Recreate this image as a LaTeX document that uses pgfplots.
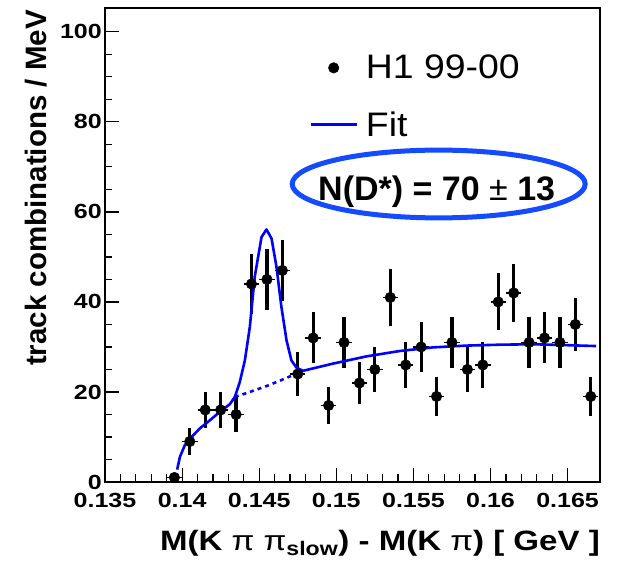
\documentclass[border=0pt]{standalone}
\usepackage{fontspec}
\setmainfont{Liberation Sans}
\newfontfamily\tickfont[FakeStretch=1.22]{Liberation Sans}
\newfontfamily\legfont[FakeStretch=1.1]{Liberation Sans}
\usepackage{graphicx}
\usepackage{pgfplots}
\pgfplotsset{compat=1.18}
\definecolor{ellblue}{RGB}{20,75,255}
\pgfplotsset{
  fitlegend/.style={legend image code/.code={\draw[##1] (0pt,0pt) -- (46pt,0pt);}},
  datalegend/.style={legend image code/.code={\draw[mark repeat=2,mark phase=2,##1] plot coordinates {(0pt,0pt) (23pt,0pt) (46pt,0pt)};}},
}
\begin{document}
\begin{tikzpicture}
\begin{axis}[
  name=ax,
  scale only axis,
  width=495pt, height=474pt,
  xmin=0.135, xmax=0.1671,
  ymin=0, ymax=105.3,
  axis line style={line width=1.3pt},
  xtick={0.135,0.14,0.145,0.15,0.155,0.16,0.165},
  xticklabels={0.135,0.14,0.145,0.15,0.155,0.16,0.165},
  minor x tick num=4,
  ytick={0,20,40,60,80,100},
  minor y tick num=3,
  xtick pos=bottom, ytick pos=left,
  tick align=inside,
  major tick length=14pt, minor tick length=7.5pt,
  tick style={line width=1.2pt, black},
  /pgf/number format/assume math mode=true,
  tick label style={font=\tickfont\fontsize{20.5}{24}\selectfont\bfseries, inner sep=0pt},
  xticklabel style={anchor=base, yshift=-25.3pt},
  yticklabel style={anchor=east, xshift=-3pt},
  xlabel={\scalebox{1.18}[1]{\textbf{M(K {\mdseries π} {\mdseries π}\textsubscript{slow}) - M(K {\mdseries π}) [ GeV ]}}},
  xlabel style={font=\fontsize{28}{34}\selectfont, at={(rel axis cs:1,-0.1435)}, anchor=base east, inner sep=0pt},
  ylabel={\textbf{track combinations / MeV}},
  ylabel style={font=\fontsize{29.5}{34}\selectfont, at={(rel axis cs:-0.1172,0.9958)}, anchor=base east, inner sep=0pt},
  legend style={draw=none, fill=none, font=\legfont\fontsize{34}{40}\selectfont,
    at={(rel axis cs:0.4125,0.905)}, anchor=north west,
    row sep=27pt, inner sep=0pt,
    /tikz/every odd column/.append style={column sep=6pt}},
  legend cell align=left,
]
% data with y errors
\addplot[only marks, mark=*, mark size=5.3pt, black, datalegend,
  error bars/.cd, y dir=both, y explicit,
  error bar style={line width=3.2pt, black}, error mark=none]
  table[x=x, y=y, y error=e] {
x y e
0.1395 1 1
0.1405 9 3
0.1415 16 4
0.1425 16 4
0.1435 15 3.87
0.1445 44 6.63
0.1455 45 6.71
0.1465 47 6.86
0.1475 24 4.9
0.1485 32 5.66
0.1495 17 4.12
0.1505 31 5.57
0.1515 22 4.69
0.1525 25 5
0.1535 41 6.4
0.1545 26 5.1
0.1555 30 5.48
0.1565 19 4.36
0.1575 31 5.57
0.1585 25 5
0.1595 26 5.1
0.1605 40 6.32
0.1615 42 6.48
0.1625 31 5.57
0.1635 32 5.66
0.1645 31 5.57
0.1655 35 5.92
0.1665 19 4.36
};
\addlegendentry{H1 99-00}
% horizontal bin-width bars
\addplot[only marks, mark=none, forget plot,
  error bars/.cd, x dir=both, x explicit,
  error bar style={line width=1.4pt, black}, error mark=none]
  table[x=x, y=y, x error=e] {
x y e
0.1395 1 0.0005
0.1405 9 0.0005
0.1415 16 0.0005
0.1425 16 0.0005
0.1435 15 0.0005
0.1445 44 0.0005
0.1455 45 0.0005
0.1465 47 0.0005
0.1475 24 0.0005
0.1485 32 0.0005
0.1495 17 0.0005
0.1505 31 0.0005
0.1515 22 0.0005
0.1525 25 0.0005
0.1535 41 0.0005
0.1545 26 0.0005
0.1555 30 0.0005
0.1565 19 0.0005
0.1575 31 0.0005
0.1585 25 0.0005
0.1595 26 0.0005
0.1605 40 0.0005
0.1615 42 0.0005
0.1625 31 0.0005
0.1635 32 0.0005
0.1645 31 0.0005
0.1655 35 0.0005
0.1665 19 0.0005
};
% fit
\addplot[blue, line width=2.6pt, line join=round, no marks, fitlegend]
  coordinates {
(0.13968,2.75) (0.13986,5.6) (0.14018,8.2) (0.1405,9.6) (0.14115,11.9)
(0.1418,13.7) (0.14245,15.6) (0.1431,17.3) (0.14342,18.9) (0.14374,22.2)
(0.14407,27) (0.14439,34.4) (0.14471,45.6) (0.14515,54.4) (0.14547,56.1)
(0.1458,54.1) (0.14612,47.8) (0.14644,38.9) (0.14677,31.5) (0.14709,27)
(0.14742,25.4) (0.14784,24.7) (0.14979,26.3) (0.15195,27.9) (0.15411,29.1)
(0.15626,29.9) (0.15843,30.3) (0.16058,30.5) (0.16274,30.6) (0.1649,30.4)
(0.16685,30.2)
};
\addlegendentry{Fit}
% background under peak
\addplot[blue, line width=2.6pt, dash pattern=on 4pt off 4pt, no marks, forget plot]
  coordinates {(0.14342,18.9) (0.14439,20) (0.14547,21.3) (0.14655,22.8) (0.14784,24.7)};
\draw[ellblue, line width=5pt] (axis cs:0.15664,66.2) ellipse [x radius=146.5pt, y radius=33.9pt];
\node[anchor=base, font=\fontsize{34}{40}\selectfont\bfseries] at (axis cs:0.15651,62.6) {N(D*) = 70 {\mdseries ±} 13};
\end{axis}
\pgfresetboundingbox
\path ([xshift=-105pt,yshift=-79pt]ax.south west) rectangle ([xshift=19pt,yshift=8pt]ax.north east);
\end{tikzpicture}
\end{document}
